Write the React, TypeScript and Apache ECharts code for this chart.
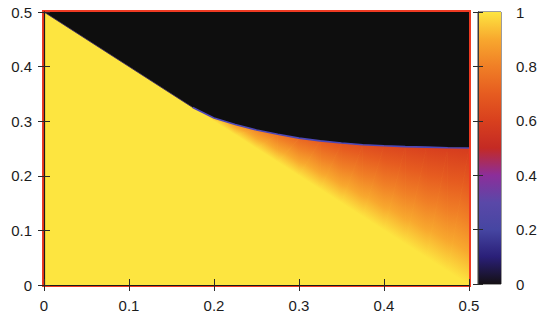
import React, { useEffect, useRef } from 'react';
import * as echarts from 'echarts';

// Axis ticks
const xTicks = [0, 0.1, 0.2, 0.3, 0.4, 0.5];
const yTicks = [0, 0.1, 0.2, 0.3, 0.4, 0.5];
const colorbarTicks = [0, 0.2, 0.4, 0.6, 0.8, 1];

// Upper boundary of the bright region (edge to the black zone)
const edgeX = [0, 0.175, 0.2, 0.225, 0.25, 0.275, 0.3, 0.325, 0.35, 0.375, 0.4, 0.425, 0.45, 0.475, 0.5];
const edgeY = [0.5, 0.325, 0.306, 0.294, 0.284, 0.276, 0.269, 0.264, 0.26, 0.257, 0.255, 0.2535, 0.2525, 0.2515, 0.251];
// value just below that boundary
const edgeValue = [1, 1, 0.93, 0.87, 0.82, 0.77, 0.73, 0.7, 0.67, 0.65, 0.63, 0.615, 0.6, 0.59, 0.58];
// lower (yellow ridge) boundary of the graded zone at the same x, value 1 there
const ridgeY = [0.5, 0.325, 0.3, 0.275, 0.25, 0.225, 0.2, 0.175, 0.15, 0.125, 0.1, 0.075, 0.05, 0.025, 0];
const ridgeValue = 1;

// Colour palette (value 0 .. 1)
const paletteStops = [0, 0.1, 0.2, 0.3, 0.4, 0.5, 0.6, 0.7, 0.8, 0.9, 1];
const paletteColors = ['#141014', '#2a1f78', '#4646a2', '#5a48a8', '#8c2e9a', '#c42a24', '#d8401e', '#e65c20', '#f07f26', '#f8a82e', '#fde63e'];

const zeroColor = '#0e0e0e';
const oneColor = '#fde540';

function hexToRgb(h: string) {
  const s = h.replace('#', '');
  return [parseInt(s.slice(0, 2), 16), parseInt(s.slice(2, 4), 16), parseInt(s.slice(4, 6), 16)];
}
function colorAt(v: number) {
  const c = Math.max(0, Math.min(1, v));
  if (c >= 1) return oneColor;
  for (let i = 0; i < paletteStops.length - 1; i++) {
    const a = paletteStops[i], b = paletteStops[i + 1];
    if (c <= b) {
      const f = (c - a) / (b - a);
      const ca = hexToRgb(paletteColors[i]);
      const cb = hexToRgb(i + 1 === paletteStops.length - 1 ? oneColor : paletteColors[i + 1]);
      const m = ca.map((x, k) => Math.round(x + (cb[k] - x) * f));
      return `rgb(${m[0]},${m[1]},${m[2]})`;
    }
  }
  return oneColor;
}

// Fill of a triangle whose colour follows the value linearly between its corners
function triangleFill(p: number[][], f: number[]) {
  const vmin = Math.min(...f), vmax = Math.max(...f);
  if (vmax - vmin < 1e-6) return colorAt(vmin);
  const ax = p[1][0] - p[0][0], ay = p[1][1] - p[0][1];
  const bx = p[2][0] - p[0][0], by = p[2][1] - p[0][1];
  const det = ax * by - ay * bx;
  if (Math.abs(det) < 1e-6) return colorAt((vmin + vmax) / 2);
  const df1 = f[1] - f[0], df2 = f[2] - f[0];
  const ga = (df1 * by - df2 * ay) / det;
  const gb = (ax * df2 - bx * df1) / det;
  const g2 = ga * ga + gb * gb;
  const s = (vmin - f[0]) / g2, e = (vmax - f[0]) / g2;
  const stops: any[] = [{ offset: 0, color: colorAt(vmin) }];
  paletteStops.forEach((ps) => {
    if (ps > vmin && ps < vmax) stops.push({ offset: (ps - vmin) / (vmax - vmin), color: colorAt(ps) });
  });
  stops.push({ offset: 1, color: colorAt(vmax) });
  return {
    type: 'linear', global: true,
    x: p[0][0] + ga * s, y: p[0][1] + gb * s,
    x2: p[0][0] + ga * e, y2: p[0][1] + gb * e,
    colorStops: stops,
  };
}

const FONT = "'Liberation Sans', Arial, Helvetica, sans-serif";
const labelStyle = { fontFamily: FONT, fontSize: 15, color: '#1c1c1c' };

export default function App() {
  const ref = useRef<HTMLDivElement>(null);
  useEffect(() => {
    if (!ref.current) return;
    const chart = echarts.init(ref.current, undefined, { renderer: 'svg' });
    const n = edgeX.length;

    const tri = (pts: number[][], vals: number[]) => {
      const fill = triangleFill(pts, vals);
      return { type: 'polygon', shape: { points: pts }, style: { fill, stroke: fill, lineWidth: 0.8 } };
    };

    const option: any = {
      animation: false,
      backgroundColor: '#ffffff',
      grid: [
        { left: 44, top: 12, width: 425, height: 273, show: true, borderColor: '#ee3a22', borderWidth: 4, backgroundColor: 'transparent' },
        { left: 478, top: 12, width: 23, height: 272, show: true, borderColor: '#3a3a3a', borderWidth: 1, backgroundColor: 'transparent' },
      ],
      xAxis: [
        {
          gridIndex: 0, type: 'value', min: xTicks[0], max: xTicks[xTicks.length - 1], interval: 0.1, z: 10,
          axisLine: { show: true, lineStyle: { color: '#1a1a1a', width: 1.2 } },
          axisTick: { show: true, inside: true, length: 6, lineStyle: { color: '#2a2a2a' } },
          axisLabel: { ...labelStyle, margin: 13 },
          splitLine: { show: false },
        },
        {
          gridIndex: 0, type: 'value', position: 'top', min: 0, max: 0.5, interval: 0.1, z: 10,
          axisLine: { show: true, lineStyle: { color: '#1a1a1a', width: 1 } },
          axisTick: { show: true, inside: true, length: 6, lineStyle: { color: '#2a2a2a' } },
          axisLabel: { show: false }, splitLine: { show: false },
        },
        { gridIndex: 1, type: 'value', min: 0, max: 1, show: false },
      ],
      yAxis: [
        {
          gridIndex: 0, type: 'value', min: yTicks[0], max: yTicks[yTicks.length - 1], interval: 0.1, z: 10,
          axisLine: { show: true, lineStyle: { color: '#1a1a1a', width: 1.2 } },
          axisTick: { show: true, inside: true, length: 6, lineStyle: { color: '#2a2a2a' } },
          axisLabel: { ...labelStyle, margin: 12 },
          splitLine: { show: false },
        },
        {
          gridIndex: 0, type: 'value', position: 'right', min: 0, max: 0.5, interval: 0.1, z: 10,
          axisLine: { show: true, lineStyle: { color: '#1a1a1a', width: 1 } },
          axisTick: { show: true, inside: true, length: 6, lineStyle: { color: '#2a2a2a' } },
          axisLabel: { show: false }, splitLine: { show: false },
        },
        {
          gridIndex: 1, type: 'value', position: 'right', min: colorbarTicks[0], max: colorbarTicks[colorbarTicks.length - 1], interval: 0.2, z: 10,
          axisLine: { show: true, lineStyle: { color: '#3a3a3a', width: 1 } },
          axisTick: { show: true, inside: true, length: 5, lineStyle: { color: '#2a2a2a' } },
          axisLabel: { ...labelStyle, margin: 15 },
          splitLine: { show: false },
        },
        {
          gridIndex: 1, type: 'value', position: 'left', min: 0, max: 1, interval: 0.2, z: 10,
          axisLine: { show: true, lineStyle: { color: '#3a3a3a', width: 1 } },
          axisTick: { show: true, inside: true, length: 5, lineStyle: { color: '#2a2a2a' } },
          axisLabel: { show: false }, splitLine: { show: false },
        },
      ],
      series: [
        // base: value 1 everywhere below the boundary
        {
          type: 'custom', xAxisIndex: 0, yAxisIndex: 0, z: 1, clip: true, silent: true,
          data: [[0.25, 0.25]],
          renderItem: (_p: any, api: any) => {
            const a = api.coord([xTicks[0], yTicks[0]]);
            const b = api.coord([xTicks[xTicks.length - 1], yTicks[yTicks.length - 1]]);
            return { type: 'rect', shape: { x: a[0], y: b[1], width: b[0] - a[0], height: a[1] - b[1] }, style: { fill: oneColor } };
          },
        },
        // graded zone between yellow ridge and boundary (two linear triangles per strip)
        {
          type: 'custom', xAxisIndex: 0, yAxisIndex: 0, z: 2, clip: true, silent: true,
          data: edgeX.map((x, i) => [x, edgeY[i], ridgeY[i], edgeValue[i]]),
          renderItem: (params: any, api: any) => {
            const i = params.dataIndex;
            if (i < 1 || i >= n - 1) return null;
            const c0 = api.coord([edgeX[i], edgeY[i]]);
            const c1 = api.coord([edgeX[i + 1], edgeY[i + 1]]);
            const d1 = api.coord([edgeX[i + 1], ridgeY[i + 1]]);
            const d0 = api.coord([edgeX[i], ridgeY[i]]);
            const children: any[] = [];
            const degenerate = Math.hypot(c0[0] - d0[0], c0[1] - d0[1]) < 0.5;
            if (!degenerate) children.push(tri([c0, c1, d0], [edgeValue[i], edgeValue[i + 1], ridgeValue]));
            children.push(tri([c1, d1, d0], [edgeValue[i + 1], ridgeValue, ridgeValue]));
            if (degenerate) children.push(tri([c0, c1, d1], [edgeValue[i], edgeValue[i + 1], ridgeValue]));
            return { type: 'group', children };
          },
        },
        // black zone above the boundary (value 0)
        {
          type: 'custom', xAxisIndex: 0, yAxisIndex: 0, z: 3, clip: true, silent: true,
          data: [[0.25, 0.4]],
          renderItem: (_p: any, api: any) => {
            const pts = edgeX.map((x, i) => api.coord([x, edgeY[i]]));
            pts.push(api.coord([xTicks[xTicks.length - 1], yTicks[yTicks.length - 1]]));
            pts.push(api.coord([xTicks[0], yTicks[yTicks.length - 1]]));
            return { type: 'polygon', shape: { points: pts }, style: { fill: zeroColor } };
          },
        },
        // thin blue rim on the boundary
        {
          type: 'line', xAxisIndex: 0, yAxisIndex: 0, z: 4, silent: true,
          data: edgeX.map((x, i) => [x, edgeY[i]]).slice(1),
          showSymbol: false,
          lineStyle: { color: '#4d48b8', width: 1.6 },
        },
        {
          type: 'line', xAxisIndex: 0, yAxisIndex: 0, z: 4, silent: true,
          data: edgeX.map((x, i) => [x, edgeY[i]]).slice(0, 2),
          showSymbol: false,
          lineStyle: { color: '#3a2a68', width: 0.8 },
        },
        // colour bar
        {
          type: 'custom', xAxisIndex: 2, yAxisIndex: 2, z: 2, silent: true,
          data: [[0.5, 0.5]],
          renderItem: (_p: any, api: any) => {
            const a = api.coord([0, colorbarTicks[0]]);
            const b = api.coord([1, colorbarTicks[colorbarTicks.length - 1]]);
            return {
              type: 'rect',
              shape: { x: a[0], y: b[1], width: b[0] - a[0], height: a[1] - b[1] },
              style: {
                fill: {
                  type: 'linear', x: 0, y: 1, x2: 0, y2: 0,
                  colorStops: paletteStops.map((s) => ({ offset: s, color: colorAt(s) })),
                },
              },
            };
          },
        },
      ],
    };
    chart.setOption(option);
    return () => chart.dispose();
  }, []);
  return <div ref={ref} style={{ position: 'fixed', left: 0, top: 0, width: 542, height: 318, background: '#fff' }} />;
}
